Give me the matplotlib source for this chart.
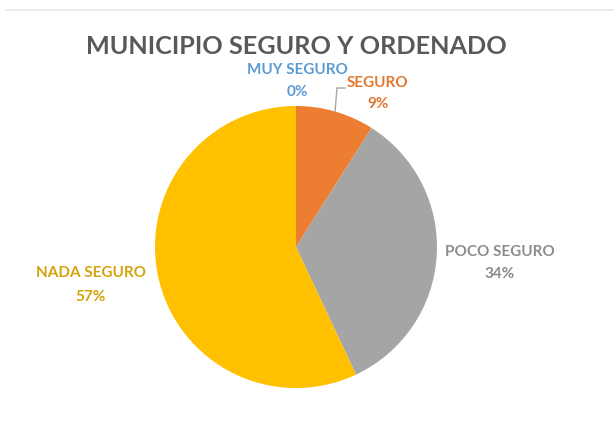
import matplotlib
matplotlib.use("Agg")
import matplotlib.pyplot as plt
from matplotlib.lines import Line2D

categories = ["MUY SEGURO", "SEGURO", "POCO SEGURO", "NADA SEGURO"]
values = [0, 9, 34, 57]
pct_labels = ["0%", "9%", "34%", "57%"]
colors = ["#5B9BD5", "#ED7D31", "#A5A5A5", "#FFC000"]
text_colors = ["#5B9BD5", "#E0782E", "#8C8C8C", "#D4A20A"]
title = "MUNICIPIO SEGURO Y ORDENADO"

W, H = 614, 428
fig = plt.figure(figsize=(W / 100, H / 100), dpi=100)
fig.patch.set_facecolor("white")

def fx(px):
    return px / W

def fy(py):
    return 1 - py / H

# pie axes (pixel box 155..437 x 106..388)
ax = fig.add_axes([fx(155), fy(388), 282 / W, 282 / H])
ax.pie(values, colors=colors, startangle=90, counterclock=False,
       wedgeprops=dict(linewidth=0))
ax.set_xlim(-1, 1)
ax.set_ylim(-1, 1)
ax.axis("off")

fam = ["Lato", "DejaVu Sans"]
fig.text(fx(296), fy(47), title, ha="center", va="center", fontsize=18.2,
         fontweight="bold", color="#595959", family=fam)

label_pos = [(297, 70, 92), (378, 83, 104), (500, 252, 274), (91, 273, 297)]
for cat, pl, col, (x, y1, y2) in zip(categories, pct_labels, text_colors, label_pos):
    fig.text(fx(x), fy(y1), cat, ha="center", va="center", fontsize=11,
             fontweight="bold", color=col, family=fam)
    fig.text(fx(x), fy(y2), pl, ha="center", va="center", fontsize=11,
             fontweight="bold", color=col, family=fam)

# leader line for SEGURO
fig.add_artist(Line2D([fx(335), fx(337), fx(345)], [fy(112), fy(88), fy(88)],
                      color="#A6A6A6", linewidth=1))

# faint top border
fig.add_artist(Line2D([fx(6), fx(614)], [fy(10), fy(10)], color="#E8E8E8", linewidth=1.2))

fig.savefig("out.png", dpi=100, facecolor="white")
